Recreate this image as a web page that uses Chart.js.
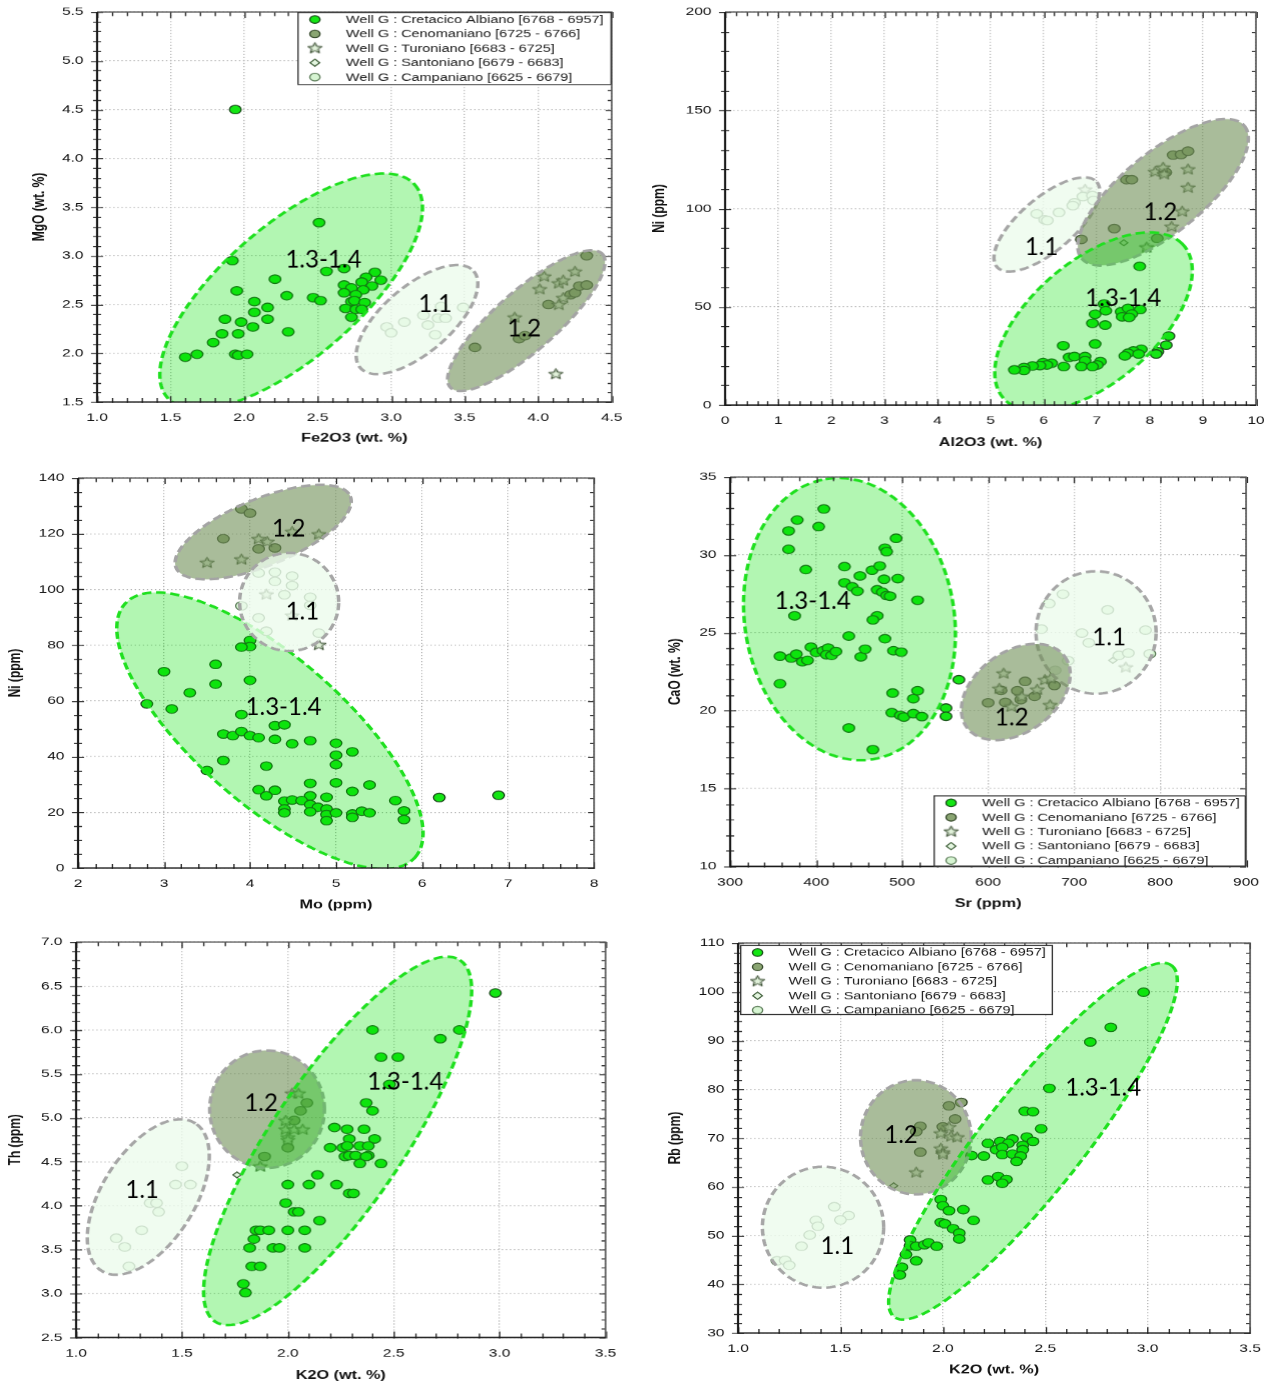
<!DOCTYPE html>
<html><head><meta charset="utf-8">
<script src="https://cdn.jsdelivr.net/npm/chart.js@4.4.1/dist/chart.umd.min.js"></script>
<style>
html,body{margin:0;padding:0;background:#fff;overflow:hidden;width:1271px;height:1382px;position:relative}
.panel{position:absolute;transform-origin:0 0;}
.panel canvas{display:block}
</style></head><body>
<script>
const SX = 1.35; // horizontal stretch of the original figure

const seriesNames = ['Well G : Cretacico Albiano [6768 - 6957]','Well G : Cenomaniano [6725 - 6766]','Well G : Turoniano [6683 - 6725]','Well G : Santoniano [6679 - 6683]','Well G : Campaniano [6625 - 6679]'];

// ---------- Panel 1 : Fe2O3 vs MgO ----------
const p1Alb = [[1.94,4.50],[2.51,3.34],[1.92,2.95],[2.56,2.84],[2.68,2.87],[2.89,2.83],[2.21,2.76],[2.83,2.78],[2.93,2.75],[2.80,2.73],[2.68,2.70],[2.87,2.69],[2.73,2.67],[1.95,2.64],[2.68,2.62],[2.81,2.65],[2.76,2.60],[2.29,2.59],[2.47,2.57],[2.52,2.54],[2.07,2.53],[2.73,2.53],[2.75,2.54],[2.82,2.52],[2.16,2.47],[2.69,2.46],[2.76,2.45],[2.80,2.45],[2.07,2.42],[2.73,2.37],[1.87,2.35],[2.16,2.35],[1.98,2.32],[2.06,2.27],[1.85,2.20],[1.96,2.20],[2.30,2.22],[1.79,2.11],[1.94,1.99],[1.96,1.98],[2.02,1.99],[1.68,1.99],[1.60,1.96]];
const p1Cen = [[4.33,3.00],[4.07,2.50],[4.22,2.60],[4.25,2.62],[4.28,2.69],[4.33,2.70],[3.87,2.15],[3.91,2.18],[3.57,2.06]];
const p1Tur = [[4.04,2.79],[4.25,2.84],[4.14,2.72],[4.17,2.75],[4.01,2.66],[4.17,2.57],[4.14,2.50],[3.84,2.37],[4.12,1.79]];
const p1San = [];
const p1Cam = [[2.97,2.27],[3.00,2.21],[3.09,2.32],[3.22,2.39],[3.25,2.29],[3.30,2.19],[3.32,2.36],[3.37,2.36],[3.34,2.48],[3.49,2.47]];
const p1X = [1.0, 4.5, 0.5, 0.1];
const p1Y = [1.5, 5.5, 0.5, 0.1];

// ---------- Panel 2 : Al2O3 vs Ni ----------
const p2Alb = [[7.81,70.6],[7.14,51.4],[7.17,48.0],[6.97,46.2],[7.46,47.5],[7.59,49.2],[7.82,48.6],[7.66,46.3],[7.48,44.9],[7.61,44.6],[6.92,41.6],[7.16,40.7],[6.37,30.2],[6.97,31.1],[8.36,35.1],[8.31,30.5],[8.15,27.2],[8.12,26.0],[7.84,28.4],[7.69,27.5],[7.59,26.4],[7.53,25.0],[7.79,26.0],[6.48,24.3],[6.58,24.7],[6.78,24.7],[6.78,22.6],[7.07,22.1],[7.01,20.4],[6.71,19.6],[6.92,19.6],[6.38,19.6],[6.15,21.3],[5.99,21.6],[6.06,20.4],[5.93,20.1],[5.79,19.9],[5.63,19.1],[5.63,17.6],[5.45,17.9]];
const p2Cen = [[8.44,127.2],[8.59,127.5],[8.72,129.2],[7.56,114.7],[7.66,114.7],[8.30,118.4],[7.33,89.8],[8.14,84.8],[6.71,84.3]];
const p2Tur = [[8.10,118.8],[8.25,121.0],[8.27,117.6],[8.72,120.1],[8.72,110.8],[8.61,98.6],[8.41,90.9],[7.94,80.4],[6.78,109.8]];
const p2San = [[7.51,82.6]];
const p2Cam = [[6.74,106.1],[6.92,106.6],[6.94,104.1],[6.58,102.9],[6.55,101.5],[6.29,98.0],[5.87,97.3],[6.02,94.3],[6.07,93.9]];
const p2X = [0, 10, 1, 0.2];
const p2Y = [0, 200, 50, 10];

// ---------- Panel 3 : Mo vs Ni ----------
const p3Alb = [[4.00,81.7],[4.00,79.5],[3.90,79.3],[3.60,73.1],[3.00,70.5],[3.60,66.0],[4.00,67.4],[3.30,62.9],[2.80,58.9],[3.09,57.1],[3.90,55.1],[4.29,51.1],[4.40,51.4],[3.69,48.1],[3.80,47.5],[3.90,49.0],[4.00,47.5],[4.10,46.8],[4.29,46.2],[4.49,44.6],[4.70,45.7],[5.00,44.8],[5.00,40.5],[5.19,41.7],[5.00,37.1],[3.69,38.6],[3.50,35.0],[4.19,36.6],[4.70,30.4],[5.00,30.6],[5.39,29.8],[4.10,28.1],[4.29,27.9],[4.19,25.9],[4.70,25.9],[4.89,25.4],[5.19,27.5],[4.40,24.0],[4.49,24.4],[4.60,24.2],[4.70,22.8],[4.79,21.8],[4.89,21.2],[4.40,21.2],[4.40,19.8],[4.70,20.2],[4.89,19.2],[4.89,17.0],[5.00,19.8],[5.19,19.4],[5.19,18.2],[5.30,20.4],[5.39,19.8],[5.69,24.2],[5.79,20.5],[5.79,17.4],[6.20,25.3],[6.89,26.1]];
const p3Cen = [[3.90,128.9],[4.00,127.4],[3.69,118.2],[4.10,114.6],[4.29,114.9]];
const p3Tur = [[4.10,118.2],[4.20,117.2],[4.49,120.8],[4.80,119.9],[3.50,109.7],[3.90,110.9],[4.19,98.3],[4.80,80.2],[4.49,90.7]];
const p3San = [];
const p3Cam = [[4.10,105.9],[4.29,106.2],[4.49,104.8],[4.29,102.9],[4.49,101.4],[4.40,98.1],[4.70,97.2],[4.70,94.3],[3.90,94.1],[4.10,89.8],[4.19,85.0],[4.80,84.3]];
const p3X = [2, 8, 1, 0.2];
const p3Y = [0, 140, 20, 5];

// ---------- Panel 4 : Sr vs CaO ----------
const p4Alb = [[409,32.95],[378,32.24],[368,31.54],[403,31.82],[368,30.36],[493,31.07],[480,30.43],[482,30.21],[388,29.06],[433,29.25],[465,29.02],[474,29.29],[451,28.65],[495,28.48],[479,28.44],[433,28.21],[442,27.95],[448,27.67],[471,27.76],[477,27.61],[482,27.39],[486,27.35],[518,27.09],[375,26.09],[471,26.09],[466,25.83],[438,24.79],[480,24.62],[358,23.50],[371,23.38],[377,23.63],[384,23.14],[390,23.23],[394,24.08],[400,23.74],[408,23.85],[414,24.02],[412,23.59],[418,23.55],[423,23.80],[452,23.46],[457,23.95],[490,23.85],[499,23.76],[358,21.73],[566,21.99],[489,21.13],[518,21.28],[513,20.77],[551,20.17],[551,19.64],[488,19.87],[498,19.70],[502,19.59],[513,19.81],[523,19.62],[438,18.89],[466,17.50]];
const p4Cen = [[600,20.51],[620,20.53],[634,21.28],[643,21.88],[638,20.71],[654,20.92],[678,22.59],[677,21.62],[615,21.30]];
const p4Tur = [[618,22.41],[613,21.43],[627,20.28],[657,21.37],[666,21.99],[673,22.09],[672,20.38],[639,20.92],[760,22.80]];
const p4San = [[745,23.23]];
const p4Cam = [[687,27.48],[671,26.88],[662,25.24],[739,26.47],[709,24.98],[717,24.36],[693,23.21],[752,23.55],[763,23.70],[783,25.17],[788,23.65]];
const p4X = [300, 900, 100, 20];
const p4Y = [10, 35, 5, 1];

// ---------- Panel 5 : K2O vs Th ----------
const p5Alb = [[2.98,6.42],[2.40,6.00],[2.81,6.00],[2.72,5.90],[2.44,5.69],[2.52,5.69],[2.48,5.38],[2.37,5.17],[2.40,5.08],[2.22,4.89],[2.28,4.87],[2.36,4.87],[2.29,4.76],[2.41,4.76],[2.20,4.66],[2.26,4.66],[2.28,4.68],[2.34,4.68],[2.38,4.68],[2.27,4.56],[2.29,4.57],[2.32,4.57],[2.38,4.57],[2.37,4.56],[2.34,4.48],[2.44,4.48],[2.14,4.35],[2.00,4.24],[2.10,4.24],[2.23,4.24],[2.29,4.14],[2.31,4.14],[1.99,4.03],[2.03,3.93],[2.05,3.93],[2.15,3.83],[1.85,3.72],[1.87,3.72],[1.91,3.72],[2.00,3.72],[2.08,3.72],[1.84,3.62],[1.82,3.52],[1.93,3.52],[1.96,3.52],[2.08,3.52],[1.83,3.31],[1.87,3.31],[1.79,3.11],[1.80,3.01]];
const p5Cen = [[2.09,5.17],[2.06,5.08],[2.03,4.97],[2.00,4.66],[1.89,4.56]];
const p5Tur = [[2.02,5.28],[2.05,5.28],[1.99,4.97],[1.99,4.87],[2.03,4.87],[2.07,4.87],[2.00,4.78],[2.00,4.75],[1.87,4.45]];
const p5San = [[1.76,4.35]];
const p5Cam = [[1.50,4.45],[1.47,4.24],[1.54,4.24],[1.35,4.03],[1.38,4.03],[1.39,3.93],[1.31,3.72],[1.19,3.63],[1.23,3.53],[1.25,3.31]];
const p5X = [1.0, 3.5, 0.5, 0.1];
const p5Y = [2.5, 7.0, 0.5, 0.1];

// ---------- Panel 6 : K2O vs Rb ----------
const p6Alb = [[2.98,99.9],[2.82,92.7],[2.72,89.7],[2.52,80.2],[2.40,75.5],[2.44,75.4],[2.48,71.9],[2.22,68.9],[2.28,69.3],[2.34,69.8],[2.32,68.9],[2.41,70.2],[2.44,69.3],[2.26,67.6],[2.29,68.1],[2.39,68.5],[2.39,67.6],[2.29,66.6],[2.34,66.7],[2.38,66.3],[2.36,65.2],[2.14,66.4],[2.20,66.3],[2.22,61.4],[2.27,62.1],[2.31,61.5],[2.29,60.7],[1.99,57.4],[2.00,56.1],[2.03,55.1],[2.10,55.3],[2.15,53.1],[1.99,52.7],[2.01,52.4],[2.05,51.4],[2.08,50.5],[2.08,49.3],[1.84,49.1],[1.84,47.9],[1.87,47.8],[1.91,48.1],[1.93,48.5],[1.97,47.8],[1.82,46.1],[1.87,44.8],[1.80,43.5],[1.79,41.9]];
const p6Cen = [[2.09,77.3],[2.03,76.6],[2.06,73.9],[2.00,72.3],[1.89,72.4],[1.87,71.3],[1.89,67.1]];
const p6Tur = [[2.03,72.3],[1.99,71.0],[2.04,70.4],[2.07,70.2],[1.99,67.9],[2.00,67.1],[2.00,66.7],[1.87,63.0]];
const p6San = [[1.76,60.2]];
const p6Cam = [[1.47,55.9],[1.54,54.1],[1.50,53.2],[1.38,53.1],[1.39,51.9],[1.35,50.1],[1.31,47.8],[1.19,44.8],[1.23,44.9],[1.25,43.9]];
const p6X = [1.0, 3.5, 0.5, 0.1];
const p6Y = [30, 110, 10, 2];

// ---------- Grouping zones (ellipses in data units: centre, end of one axis, end of other axis) ----------
const zones1 = [
  {name:'1.3-1.4', kind:'g',  c:[2.320,2.636], a:[3.160,3.730], b:[2.624,2.124], t:[2.54,2.96]},
  {name:'1.1',     kind:'l',  c:[3.176,2.346], a:[3.562,2.841], b:[3.325,2.086], t:[3.30,2.50]},
  {name:'1.2',     kind:'o',  c:[3.919,2.335], a:[4.436,3.019], b:[4.057,2.106], t:[3.905,2.253]}
];
const zones2 = [
  {name:'1.1',     kind:'l',  c:[6.06,91.9], a:[7.00,113.5], b:[6.39,81.6], t:[5.96,80.4]},
  {name:'1.2',     kind:'o',  c:[8.25,108.3], a:[9.78,142.1], b:[8.74,92.6], t:[8.20,98.1]},
  {name:'1.3-1.4', kind:'g',  c:[6.94,42.4], a:[8.61,82.1], b:[7.76,20.3], t:[7.50,54.2]}
];
const zones3 = [
  {name:'1.2',     kind:'o',  c:[4.153,120.6], a:[5.165,133.5], b:[4.31,109.6], t:[4.45,121.8]},
  {name:'1.3-1.4', kind:'g',  c:[4.231,49.3], a:[5.918,3.8], b:[4.80,69.1], t:[4.39,57.7]},
  {name:'1.1',     kind:'l',  c:[4.455,95.5], a:[5.031,95.5], b:[4.455,113.1], t:[4.61,91.9]}
];
const zones4 = [
  {name:'1.3-1.4', kind:'g',  c:[438.8,25.88], a:[411.0,34.87], b:[558.8,26.99], t:[396.1,27.0]},
  {name:'1.1',     kind:'l',  c:[725.5,25.02], a:[795.3,25.02], b:[725.5,28.95], t:[740.8,24.70]},
  {name:'1.2',     kind:'o',  c:[632.2,21.20], a:[689.0,23.48], b:[660.0,19.12], t:[627.5,19.53]}
];
const zones5 = [
  {name:'1.1',     kind:'l',  c:[1.341,4.099], a:[1.569,4.927], b:[1.517,3.788], t:[1.312,4.175]},
  {name:'1.2',     kind:'o',  c:[1.902,5.098], a:[2.173,5.098], b:[1.902,5.766], t:[1.874,5.163]},
  {name:'1.3-1.4', kind:'g',  c:[2.235,4.737], a:[2.812,6.795], b:[2.495,4.339], t:[2.555,5.409]}
];
const zones6 = [
  {name:'1.1',     kind:'l',  c:[1.415,51.7], a:[1.711,51.7], b:[1.415,64.1], t:[1.485,47.8]},
  {name:'1.2',     kind:'o',  c:[1.868,70.15], a:[2.138,70.15], b:[1.868,81.85], t:[1.796,70.5]},
  {name:'1.3-1.4', kind:'g',  c:[2.440,69.33], a:[3.118,105.35], b:[2.632,62.97], t:[2.783,80.3]}
];

// ---------- styles ----------
function makeStar(){
  const c=document.createElement('canvas'); c.width=13; c.height=13;
  const g=c.getContext('2d'); g.beginPath();
  for(let i=0;i<10;i++){const r=i%2?2.4:5.6; const a=-Math.PI/2+i*Math.PI/5; const x=6.5+r*Math.cos(a), y=7+r*Math.sin(a); i?g.lineTo(x,y):g.moveTo(x,y);}
  g.closePath(); g.fillStyle='rgba(220,238,212,0.85)'; g.fill(); g.strokeStyle='#33482b'; g.lineWidth=1; g.stroke();
  return c;
}
const STAR = makeStar();
const seriesStyle = [
  {ps:'circle', r:4.3, bg:'#14e614', bd:'#1a4a1a'},
  {ps:'circle', r:4.3, bg:'#8aa572', bd:'#34472a'},
  {ps:STAR,     r:5,   bg:'#dceed4', bd:'#33482b'},
  {ps:'rectRot',r:3,   bg:'#e4f6e0', bd:'#3a5a34'},
  {ps:'circle', r:4.3, bg:'#d6f4d2', bd:'#5e7e5a'}
];
const zoneStyle = {
  g:{fill:'rgba(0,225,0,0.30)', stroke:'#1fe01f'},
  l:{fill:'rgba(236,251,236,0.78)', stroke:'#a6a6a6'},
  o:{fill:'rgba(112,143,87,0.60)', stroke:'#a4a4a4'}
};

const panels = [
  {plot:[97,12,611,402], xr:p1X, yr:p1Y, dec:[1,1], xt:'Fe2O3 (wt. %)', yt:'MgO (wt. %)', yto:57, xto:36, series:[p1Alb,p1Cen,p1Tur,p1San,p1Cam], zones:zones1, legend:[200,0,314,73]},
  {plot:[725,12,1255,405], xr:p2X, yr:p2Y, dec:[0,0], xt:'Al2O3 (wt. %)', yt:'Ni (ppm)', yto:65, xto:38, series:[p2Alb,p2Cen,p2Tur,p2San,p2Cam], zones:zones2, legend:null},
  {plot:[78,478,594,868], xr:p3X, yr:p3Y, dec:[0,0], xt:'Mo (ppm)', yt:'Ni (ppm)', yto:62, xto:37, series:[p3Alb,p3Cen,p3Tur,p3San,p3Cam], zones:zones3, legend:null},
  {plot:[730,477,1245,866], xr:p4X, yr:p4Y, dec:[0,0], xt:'Sr (ppm)', yt:'CaO (wt. %)', yto:54, xto:37, series:[p4Alb,p4Cen,p4Tur,p4San,p4Cam], zones:zones4, legend:[203,318,312,71]},
  {plot:[76,942,605,1337], xr:p5X, yr:p5Y, dec:[1,1], xt:'K2O (wt. %)', yt:'Th (ppm)', yto:60, xto:38, series:[p5Alb,p5Cen,p5Tur,p5San,p5Cam], zones:zones5, legend:null},
  {plot:[738,943,1250,1333], xr:p6X, yr:p6Y, dec:[1,0], xt:'K2O (wt. %)', yt:'Rb (ppm)', yto:62, xto:37, series:[p6Alb,p6Cen,p6Tur,p6San,p6Cam], zones:zones6, legend:[2,2,313,70]}
];

const YW = 60, TOP = 20, XH = 50, RP = 24;

function drawMarker(ctx, st, x, y){
  ctx.save();
  if (st.ps === STAR){ ctx.drawImage(STAR, x-6.5, y-7, 13, 13); ctx.restore(); return; }
  ctx.fillStyle=st.bg; ctx.strokeStyle=st.bd; ctx.lineWidth=1;
  ctx.beginPath();
  if (st.ps==='circle'){ ctx.arc(x,y,3.8,0,Math.PI*2); }
  else { ctx.moveTo(x,y-st.r*1.2); ctx.lineTo(x+st.r*1.2,y); ctx.lineTo(x,y+st.r*1.2); ctx.lineTo(x-st.r*1.2,y); ctx.closePath(); }
  ctx.fill(); ctx.stroke(); ctx.restore();
}

const zonePlugin = {
  id:'zones',
  afterDatasetsDraw(chart, args, opts){
    const ctx=chart.ctx, a=chart.chartArea, xs=chart.scales.x, ys=chart.scales.y;
    ctx.save(); ctx.beginPath(); ctx.rect(a.left,a.top,a.right-a.left,a.bottom-a.top); ctx.clip();
    for (const z of opts.zones){
      const st=zoneStyle[z.kind];
      ctx.beginPath();
      const N=160;
      for(let i=0;i<=N;i++){
        const t=i/N*Math.PI*2, c=Math.cos(t), s=Math.sin(t);
        const vx=z.c[0]+(z.a[0]-z.c[0])*c+(z.b[0]-z.c[0])*s;
        const vy=z.c[1]+(z.a[1]-z.c[1])*c+(z.b[1]-z.c[1])*s;
        const px=xs.getPixelForValue(vx), py=ys.getPixelForValue(vy);
        i?ctx.lineTo(px,py):ctx.moveTo(px,py);
      }
      ctx.closePath();
      ctx.fillStyle=st.fill; ctx.fill();
      ctx.setLineDash([7,3.5]); ctx.lineWidth=2.6; ctx.strokeStyle=st.stroke; ctx.stroke();
    }
    ctx.setLineDash([]);
    ctx.fillStyle='#000'; ctx.textAlign='center'; ctx.textBaseline='middle';
    ctx.font='24px Lato, "Open Sans", sans-serif';
    for (const z of opts.zones){
      ctx.save(); ctx.translate(xs.getPixelForValue(z.t[0]), ys.getPixelForValue(z.t[1])); ctx.scale(1/SX,1);
      ctx.fillText(z.name,0,0); ctx.restore();
    }
    ctx.restore();
  }
};

const framePlugin = {
  id:'frame',
  afterDraw(chart, args, o){
    const ctx=chart.ctx, a=chart.chartArea, xs=chart.scales.x, ys=chart.scales.y;
    ctx.save();
    ctx.strokeStyle='#2a2a2a'; ctx.lineWidth=1;
    const nx=Math.round((o.xr[1]-o.xr[0])/o.xr[3]);
    for(let i=0;i<=nx;i++){
      const v=o.xr[0]+i*o.xr[3]; const r=v/o.xr[2]; const maj=Math.abs(r-Math.round(r))<1e-4;
      const px=Math.round(xs.getPixelForValue(v))+0.5; const L=maj?6:4;
      ctx.beginPath(); ctx.moveTo(px,a.bottom+1); ctx.lineTo(px,a.bottom-L); ctx.moveTo(px,a.top); ctx.lineTo(px,a.top+L); ctx.stroke();
    }
    const ny=Math.round((o.yr[1]-o.yr[0])/o.yr[3]);
    for(let i=0;i<=ny;i++){
      const v=o.yr[0]+i*o.yr[3]; const r=v/o.yr[2]; const maj=Math.abs(r-Math.round(r))<1e-4;
      const py=Math.round(ys.getPixelForValue(v))+0.5; const L=maj?4.5:3;
      ctx.beginPath(); ctx.moveTo(a.left-L,py); ctx.lineTo(a.left+L,py); ctx.moveTo(a.right,py); ctx.lineTo(a.right-L,py); ctx.stroke();
    }
    ctx.strokeStyle='#555'; ctx.lineWidth=1.2;
    ctx.beginPath(); ctx.moveTo(a.left,a.top); ctx.lineTo(a.right,a.top); ctx.lineTo(a.right,a.bottom); ctx.stroke();
    ctx.strokeStyle='#1a1a1a'; ctx.lineWidth=1.6;
    ctx.beginPath(); ctx.moveTo(a.left,a.top); ctx.lineTo(a.left,a.bottom); ctx.lineTo(a.right,a.bottom); ctx.stroke();
    ctx.fillStyle='#111'; ctx.font='bold 12px "Liberation Sans", Arial, sans-serif';
    ctx.textAlign='center'; ctx.textBaseline='middle';
    ctx.fillText(o.xt,(a.left+a.right)/2,a.bottom+o.xto);
    ctx.save(); ctx.translate(a.left-o.yto/SX,(a.top+a.bottom)/2); ctx.rotate(-Math.PI/2); ctx.fillText(o.yt,0,0); ctx.restore();
    if (o.legend){
      const bx=a.left+o.legend[0]/SX, by=a.top+o.legend[1], bw=o.legend[2]/SX, bh=o.legend[3];
      ctx.fillStyle='#fff'; ctx.fillRect(bx,by,bw,bh);
      ctx.strokeStyle='#333'; ctx.lineWidth=1; ctx.strokeRect(bx+0.5,by+0.5,bw-1,bh-1);
      ctx.font='10.7px "Liberation Sans", Arial, sans-serif'; ctx.textAlign='left';
      for(let i=0;i<5;i++){
        const yy=by+7.5+i*14.4;
        drawMarker(ctx, seriesStyle[i], bx+13, yy);
        ctx.fillStyle='#1a1a1a'; ctx.fillText(seriesNames[i], bx+36, yy+0.5);
      }
    }
    ctx.restore();
  }
};

panels.forEach((p)=>{
  const [pl,pt,pr,pb]=p.plot;
  const plotW=(pr-pl)/SX, plotH=pb-pt;
  const div=document.createElement('div'); div.className='panel';
  const L=pl-YW*SX, T=pt-TOP, W=YW+plotW+RP, H=TOP+plotH+XH;
  Object.assign(div.style,{left:L+'px',top:T+'px',width:W+'px',height:H+'px',transform:'scaleX('+SX+')'});
  const cv=document.createElement('canvas'); div.appendChild(cv); document.body.appendChild(div);
  const datasets=p.series.map((arr,i)=>({
    label:seriesNames[i],
    data:arr.map(([x,y])=>({x,y})),
    pointStyle:seriesStyle[i].ps, pointRadius:seriesStyle[i].r, pointHoverRadius:seriesStyle[i].r,
    backgroundColor:seriesStyle[i].bg, borderColor:seriesStyle[i].bd, borderWidth:1, showLine:false
  })).reverse();
  const tickFont={family:'"Liberation Sans", Arial, sans-serif', size:11.5};
  new Chart(cv,{
    type:'scatter',
    data:{datasets},
    options:{
      responsive:true, maintainAspectRatio:false, animation:false, devicePixelRatio:SX,
      layout:{padding:{left:0,top:TOP,right:RP,bottom:0}},
      plugins:{legend:{display:false}, tooltip:{enabled:false},
        zones:{zones:p.zones},
        frame:{xr:p.xr, yr:p.yr, xt:p.xt, yt:p.yt, xto:p.xto, yto:p.yto, legend:p.legend}},
      scales:{
        x:{type:'linear', min:p.xr[0], max:p.xr[1],
           ticks:{stepSize:p.xr[2], padding:9, color:'#111', font:tickFont, maxRotation:0, autoSkip:false, callback:v=>Number(v).toFixed(p.dec[0])},
           grid:{color:'#b4b4b4', lineWidth:1, drawTicks:false}, border:{display:false, dash:[1,2]},
           afterFit:s=>{s.height=XH;}},
        y:{type:'linear', min:p.yr[0], max:p.yr[1],
           ticks:{stepSize:p.yr[2], padding:10, color:'#111', font:tickFont, autoSkip:false, callback:v=>Number(v).toFixed(p.dec[1])},
           grid:{color:'#b4b4b4', lineWidth:1, drawTicks:false}, border:{display:false, dash:[1,2]},
           afterFit:s=>{s.width=YW;}}
      }
    },
    plugins:[zonePlugin, framePlugin]
  });
});
</script>
</body></html>
